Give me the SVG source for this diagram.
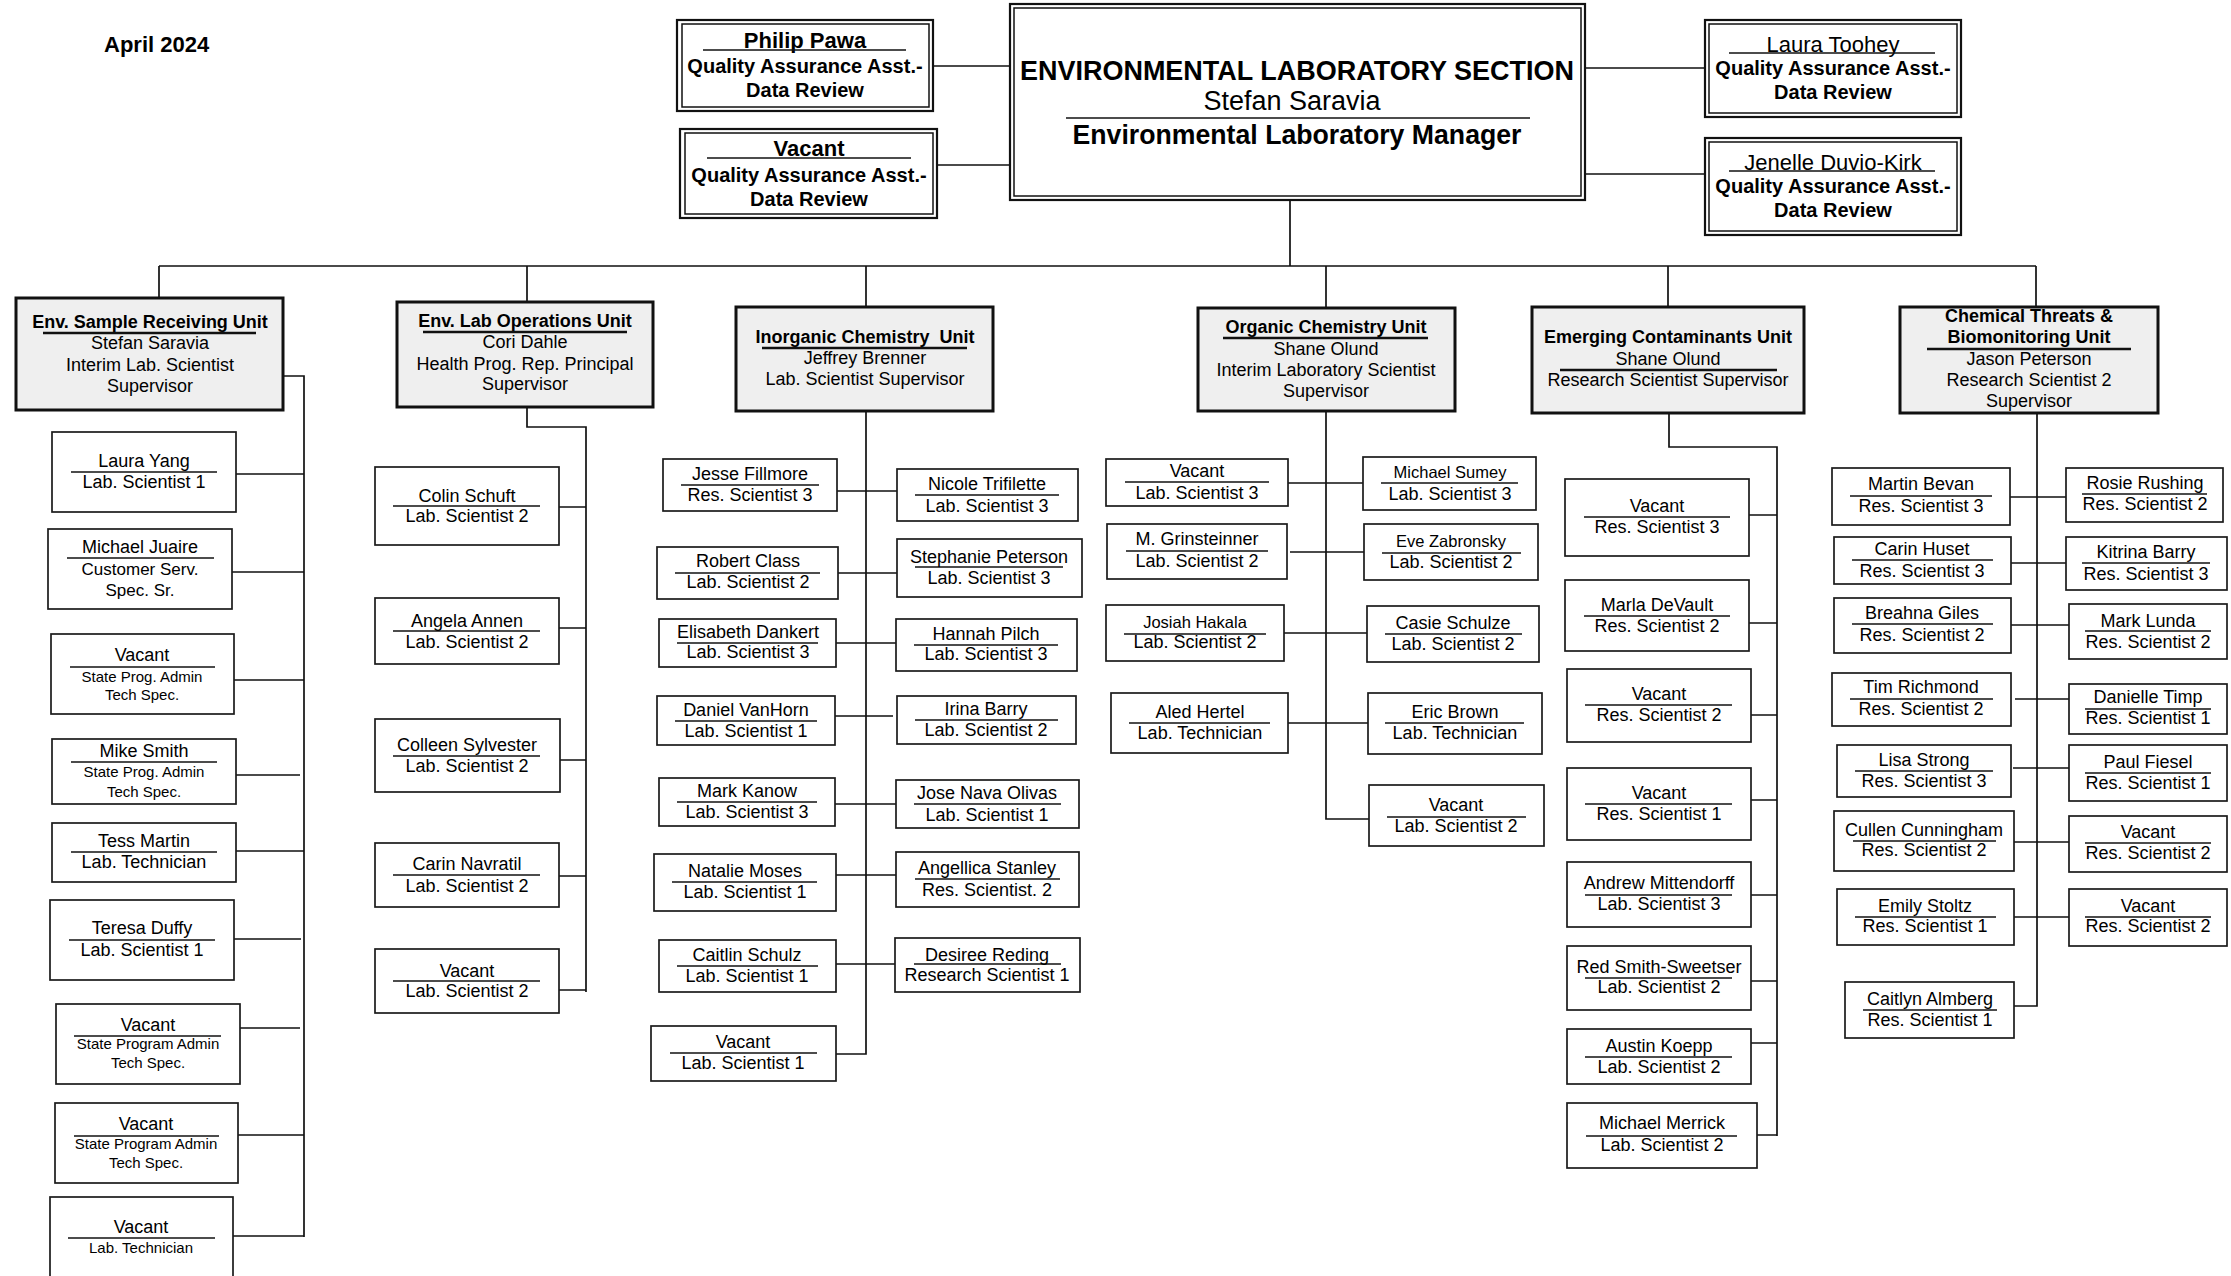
<svg xmlns="http://www.w3.org/2000/svg" width="2231" height="1276" viewBox="0 0 2231 1276">
<style>
.bg{fill:#fff}
.box{fill:#fff;stroke:#1a1a1a;stroke-width:1.7}
.o2{fill:#fff;stroke:#111;stroke-width:2.2}
.i2{fill:none;stroke:#111;stroke-width:1.5}
.unit{fill:#efefef;stroke:#111;stroke-width:3}
.ul{stroke:#111;stroke-width:1.7}
.ulb{stroke:#111;stroke-width:2.6}
.t{font-family:"Liberation Sans",Arial,sans-serif;font-size:18px;text-anchor:middle;fill:#000}
.s15{font-size:15px}
.s16{font-size:16.5px}
.s17{font-size:17px}
.s20{font-size:20px}
.s22{font-size:22px}
.s27{font-size:27px}
.b{font-weight:bold}
.conn path{fill:none;stroke:#111;stroke-width:1.7}
</style>
<rect class="bg" x="0" y="0" width="2231" height="1276"/>

<text class="t b s22" x="104" y="52" style="text-anchor:start">April 2024</text>

<g class="conn" id="connectors">
<path d="M933,66 H1010 M937,165 H1010 M1585,68 H1705 M1585,174 H1705"/>
<path d="M1290,200 V266 M159,266 H2036"/>
<path d="M159,266 V298 M527,266 V302 M866,266 V307 M1326,266 V308 M1668,266 V307 M2036,266 V307"/>
<path d="M283,376 H304 V1237 M236,474 H304 M232,572 H304 M234,680 H304 M236,775 H300 M236,851 H304 M234,939 H301 M240,1028 H300 M238,1135 H304 M233,1236 H304"/>
<path d="M527,407 V427 H586 V992 M559,507 H586 M559,628 H586 M560,760 H586 M559,876 H586 M559,990 H586"/>
<path d="M866,411 V1054 H836 M837,491 H897 M838,573 H897 M836,643 H896 M835,716 H893 M835,804 H896 M834,875 H896 M836,964 H898"/>
<path d="M1326,411 V819 H1369 M1288,483 H1363 M1290,552 H1367 M1284,633 H1367 M1288,723 H1368"/>
<path d="M1669,413 V447 H1777 V1136 M1749,515 H1777 M1749,623 H1777 M1751,715 H1777 M1751,800 H1777 M1751,895 H1777 M1751,981 H1777 M1751,1043 H1777 M1757,1135 H1777"/>
<path d="M2037,413 V1006 H2014 M2010,497 H2066 M2011,563 H2066 M2011,625 H2069 M2015,699 H2069 M2013,768 H2069 M2014,842 H2069 M2014,917 H2069"/>
</g>

<!-- top -->
<g id="n-main">
<rect class="o2" x="1010" y="4" width="575" height="196"/>
<rect class="i2" x="1014" y="8" width="567" height="188"/>
<text class="t b s27" x="1297" y="80" textLength="554" lengthAdjust="spacingAndGlyphs">ENVIRONMENTAL LABORATORY SECTION</text>
<text class="t s27" x="1292" y="110">Stefan Saravia</text>
<line class="ul" x1="1066" y1="118" x2="1530" y2="118"/>
<text class="t b s27" x="1297" y="144" textLength="449" lengthAdjust="spacingAndGlyphs">Environmental Laboratory Manager</text>
</g>
<g id="n-philip-pawa">
<rect class="o2" x="677" y="20" width="256" height="91"/>
<rect class="i2" x="682" y="24" width="247" height="83"/>
<text class="t b s22" x="805" y="48">Philip Pawa</text>
<line class="ul" x1="703" y1="50" x2="906" y2="50"/>
<text class="t b s20" x="805" y="73">Quality Assurance Asst.-</text>
<text class="t b s20" x="805" y="97">Data Review</text>
</g>
<g id="n-qa-vacant">
<rect class="o2" x="680" y="129" width="257" height="89"/>
<rect class="i2" x="685" y="133" width="248" height="81"/>
<text class="t b s22" x="809" y="156">Vacant</text>
<line class="ul" x1="707" y1="158" x2="911" y2="158"/>
<text class="t b s20" x="809" y="182">Quality Assurance Asst.-</text>
<text class="t b s20" x="809" y="206">Data Review</text>
</g>
<g id="n-laura-toohey">
<rect class="o2" x="1705" y="20" width="256" height="97"/>
<rect class="i2" x="1709" y="24" width="248" height="89"/>
<text class="t s22" x="1833" y="52">Laura Toohey</text>
<line class="ul" x1="1729" y1="53" x2="1935" y2="53"/>
<text class="t b s20" x="1833" y="75">Quality Assurance Asst.-</text>
<text class="t b s20" x="1833" y="99">Data Review</text>
</g>
<g id="n-jenelle-duvio-kirk">
<rect class="o2" x="1705" y="138" width="256" height="97"/>
<rect class="i2" x="1709" y="142" width="248" height="89"/>
<text class="t s22" x="1833" y="170">Jenelle Duvio-Kirk</text>
<line class="ul" x1="1729" y1="171" x2="1935" y2="171"/>
<text class="t b s20" x="1833" y="193">Quality Assurance Asst.-</text>
<text class="t b s20" x="1833" y="217">Data Review</text>
</g>

<!-- units -->
<g id="u-sample-receiving">
<rect class="unit" x="16" y="298" width="267" height="112"/>
<text class="t b" x="150" y="328">Env. Sample Receiving Unit</text>
<line class="ulb" x1="43" y1="333" x2="256" y2="333"/>
<text class="t" x="150" y="349">Stefan Saravia</text>
<text class="t" x="150" y="371">Interim Lab. Scientist</text>
<text class="t" x="150" y="392">Supervisor</text>
</g>
<g id="u-lab-operations">
<rect class="unit" x="397" y="302" width="256" height="105"/>
<text class="t b" x="525" y="327">Env. Lab Operations Unit</text>
<line class="ulb" x1="423" y1="332" x2="627" y2="332"/>
<text class="t" x="525" y="348">Cori Dahle</text>
<text class="t" x="525" y="370">Health Prog. Rep. Principal</text>
<text class="t" x="525" y="390">Supervisor</text>
</g>
<g id="u-inorganic">
<rect class="unit" x="736" y="307" width="257" height="104"/>
<text class="t b" x="865" y="343" xml:space="preserve">Inorganic Chemistry  Unit</text>
<line class="ulb" x1="762" y1="348" x2="967" y2="348"/>
<text class="t" x="865" y="364">Jeffrey Brenner</text>
<text class="t" x="865" y="385">Lab. Scientist Supervisor</text>
</g>
<g id="u-organic">
<rect class="unit" x="1198" y="308" width="257" height="103"/>
<text class="t b" x="1326" y="333">Organic Chemistry Unit</text>
<line class="ulb" x1="1223" y1="338" x2="1428" y2="338"/>
<text class="t" x="1326" y="355">Shane Olund</text>
<text class="t" x="1326" y="376">Interim Laboratory Scientist</text>
<text class="t" x="1326" y="397">Supervisor</text>
</g>
<g id="u-emerging">
<rect class="unit" x="1532" y="307" width="272" height="106"/>
<text class="t b" x="1668" y="343">Emerging Contaminants Unit</text>
<text class="t" x="1668" y="365">Shane Olund</text>
<line class="ulb" x1="1560" y1="370" x2="1777" y2="370"/>
<text class="t" x="1668" y="386">Research Scientist Supervisor</text>
</g>
<g id="u-chemical-threats">
<rect class="unit" x="1900" y="307" width="258" height="106"/>
<text class="t b" x="2029" y="322">Chemical Threats &amp;</text>
<text class="t b" x="2029" y="343">Biomonitoring Unit</text>
<line class="ulb" x1="1927" y1="349" x2="2131" y2="349"/>
<text class="t" x="2029" y="365">Jason Peterson</text>
<text class="t" x="2029" y="386">Research Scientist 2</text>
<text class="t" x="2029" y="407">Supervisor</text>
</g>

<!-- column 1 -->
<g id="n-laura-yang"><rect class="box" x="52" y="432" width="184" height="80"/><line class="ul" x1="71" y1="472" x2="217" y2="472"/><text class="t" x="144" y="467">Laura Yang</text><text class="t" x="144" y="488">Lab. Scientist 1</text></g>
<g id="n-michael-juaire"><rect class="box" x="48" y="529" width="184" height="80"/><line class="ul" x1="67" y1="558" x2="214" y2="558"/><text class="t" x="140" y="553">Michael Juaire</text><text class="t s17" x="140" y="575">Customer Serv.</text><text class="t s17" x="140" y="596">Spec. Sr.</text></g>
<g id="n-sr-vacant-1"><rect class="box" x="51" y="634" width="183" height="80"/><line class="ul" x1="70" y1="667" x2="215" y2="667"/><text class="t" x="142" y="661">Vacant</text><text class="t s15" x="142" y="682">State Prog. Admin</text><text class="t s15" x="142" y="700">Tech Spec.</text></g>
<g id="n-mike-smith"><rect class="box" x="52" y="739" width="184" height="65"/><line class="ul" x1="71" y1="762" x2="217" y2="762"/><text class="t" x="144" y="757">Mike Smith</text><text class="t s15" x="144" y="777">State Prog. Admin</text><text class="t s15" x="144" y="797">Tech Spec.</text></g>
<g id="n-tess-martin"><rect class="box" x="52" y="823" width="184" height="59"/><line class="ul" x1="71" y1="852" x2="217" y2="852"/><text class="t" x="144" y="847">Tess Martin</text><text class="t" x="144" y="868">Lab. Technician</text></g>
<g id="n-teresa-duffy"><rect class="box" x="50" y="900" width="184" height="80"/><line class="ul" x1="69" y1="940" x2="215" y2="940"/><text class="t" x="142" y="934">Teresa Duffy</text><text class="t" x="142" y="956">Lab. Scientist 1</text></g>
<g id="n-sr-vacant-2"><rect class="box" x="56" y="1004" width="184" height="80"/><line class="ul" x1="74" y1="1036" x2="221" y2="1036"/><text class="t" x="148" y="1031">Vacant</text><text class="t s15" x="148" y="1049">State Program Admin</text><text class="t s15" x="148" y="1068">Tech Spec.</text></g>
<g id="n-sr-vacant-3"><rect class="box" x="55" y="1103" width="183" height="80"/><line class="ul" x1="74" y1="1136" x2="219" y2="1136"/><text class="t" x="146" y="1130">Vacant</text><text class="t s15" x="146" y="1149">State Program Admin</text><text class="t s15" x="146" y="1168">Tech Spec.</text></g>
<g id="n-sr-vacant-4"><rect class="box" x="50" y="1197" width="183" height="90"/><line class="ul" x1="68" y1="1238" x2="215" y2="1238"/><text class="t" x="141" y="1233">Vacant</text><text class="t s15" x="141" y="1253">Lab. Technician</text></g>

<!-- column 2 -->
<g id="n-colin-schuft"><rect class="box" x="375" y="467" width="184" height="78"/><line class="ul" x1="393" y1="506" x2="540" y2="506"/><text class="t" x="467" y="502">Colin Schuft</text><text class="t" x="467" y="522">Lab. Scientist 2</text></g>
<g id="n-angela-annen"><rect class="box" x="375" y="598" width="184" height="66"/><line class="ul" x1="393" y1="631" x2="540" y2="631"/><text class="t" x="467" y="627">Angela Annen</text><text class="t" x="467" y="648">Lab. Scientist 2</text></g>
<g id="n-colleen-sylvester"><rect class="box" x="375" y="719" width="185" height="73"/><line class="ul" x1="393" y1="756" x2="540" y2="756"/><text class="t" x="467" y="751">Colleen Sylvester</text><text class="t" x="467" y="772">Lab. Scientist 2</text></g>
<g id="n-carin-navratil"><rect class="box" x="375" y="843" width="184" height="64"/><line class="ul" x1="393" y1="875" x2="540" y2="875"/><text class="t" x="467" y="870">Carin Navratil</text><text class="t" x="467" y="892">Lab. Scientist 2</text></g>
<g id="n-ops-vacant"><rect class="box" x="375" y="949" width="184" height="64"/><line class="ul" x1="393" y1="981" x2="540" y2="981"/><text class="t" x="467" y="977">Vacant</text><text class="t" x="467" y="997">Lab. Scientist 2</text></g>

<!-- column 3 -->
<g id="n-jesse-fillmore"><rect class="box" x="663" y="459" width="174" height="52"/><line class="ul" x1="681" y1="485" x2="819" y2="485"/><text class="t" x="750" y="480">Jesse Fillmore</text><text class="t" x="750" y="501">Res. Scientist 3</text></g>
<g id="n-robert-class"><rect class="box" x="657" y="547" width="181" height="52"/><line class="ul" x1="675" y1="573" x2="820" y2="573"/><text class="t" x="748" y="567">Robert Class</text><text class="t" x="748" y="588">Lab. Scientist 2</text></g>
<g id="n-elisabeth-dankert"><rect class="box" x="659" y="619" width="177" height="48"/><line class="ul" x1="677" y1="643" x2="818" y2="643"/><text class="t" x="748" y="638">Elisabeth Dankert</text><text class="t" x="748" y="658">Lab. Scientist 3</text></g>
<g id="n-daniel-vanhorn"><rect class="box" x="657" y="696" width="178" height="49"/><line class="ul" x1="675" y1="721" x2="817" y2="721"/><text class="t" x="746" y="716">Daniel VanHorn</text><text class="t" x="746" y="737">Lab. Scientist 1</text></g>
<g id="n-mark-kanow"><rect class="box" x="659" y="778" width="176" height="48"/><line class="ul" x1="677" y1="802" x2="817" y2="802"/><text class="t" x="747" y="797">Mark Kanow</text><text class="t" x="747" y="818">Lab. Scientist 3</text></g>
<g id="n-natalie-moses"><rect class="box" x="654" y="854" width="182" height="57"/><line class="ul" x1="672" y1="882" x2="817" y2="882"/><text class="t" x="745" y="877">Natalie Moses</text><text class="t" x="745" y="898">Lab. Scientist 1</text></g>
<g id="n-caitlin-schulz"><rect class="box" x="659" y="940" width="177" height="52"/><line class="ul" x1="677" y1="966" x2="818" y2="966"/><text class="t" x="747" y="961">Caitlin Schulz</text><text class="t" x="747" y="982">Lab. Scientist 1</text></g>
<g id="n-inorg-vacant"><rect class="box" x="651" y="1026" width="185" height="55"/><line class="ul" x1="670" y1="1053" x2="817" y2="1053"/><text class="t" x="743" y="1048">Vacant</text><text class="t" x="743" y="1069">Lab. Scientist 1</text></g>
<g id="n-nicole-trifilette"><rect class="box" x="897" y="469" width="181" height="52"/><line class="ul" x1="915" y1="495" x2="1059" y2="495"/><text class="t" x="987" y="490">Nicole Trifilette</text><text class="t" x="987" y="512">Lab. Scientist 3</text></g>
<g id="n-stephanie-peterson"><rect class="box" x="897" y="539" width="185" height="58"/><line class="ul" x1="915" y1="567" x2="1063" y2="567"/><text class="t" x="989" y="563">Stephanie Peterson</text><text class="t" x="989" y="584">Lab. Scientist 3</text></g>
<g id="n-hannah-pilch"><rect class="box" x="896" y="619" width="181" height="52"/><line class="ul" x1="914" y1="645" x2="1058" y2="645"/><text class="t" x="986" y="640">Hannah Pilch</text><text class="t" x="986" y="660">Lab. Scientist 3</text></g>
<g id="n-irina-barry"><rect class="box" x="897" y="696" width="179" height="48"/><line class="ul" x1="915" y1="720" x2="1058" y2="720"/><text class="t" x="986" y="715">Irina Barry</text><text class="t" x="986" y="736">Lab. Scientist 2</text></g>
<g id="n-jose-nava-olivas"><rect class="box" x="896" y="780" width="183" height="48"/><line class="ul" x1="914" y1="804" x2="1061" y2="804"/><text class="t" x="987" y="799">Jose Nava Olivas</text><text class="t" x="987" y="821">Lab. Scientist 1</text></g>
<g id="n-angellica-stanley"><rect class="box" x="896" y="852" width="183" height="55"/><line class="ul" x1="915" y1="879" x2="1060" y2="879"/><text class="t" x="987" y="874">Angellica Stanley</text><text class="t" x="987" y="896">Res. Scientist. 2</text></g>
<g id="n-desiree-reding"><rect class="box" x="895" y="938" width="185" height="54"/><line class="ul" x1="914" y1="964" x2="1061" y2="964"/><text class="t" x="987" y="961">Desiree Reding</text><text class="t" x="987" y="981">Research Scientist 1</text></g>

<!-- column 4 -->
<g id="n-org-vacant-1"><rect class="box" x="1106" y="459" width="182" height="47"/><line class="ul" x1="1125" y1="482" x2="1269" y2="482"/><text class="t" x="1197" y="477">Vacant</text><text class="t" x="1197" y="499">Lab. Scientist 3</text></g>
<g id="n-m-grinsteinner"><rect class="box" x="1107" y="524" width="180" height="55"/><line class="ul" x1="1126" y1="551" x2="1268" y2="551"/><text class="t" x="1197" y="545">M. Grinsteinner</text><text class="t" x="1197" y="567">Lab. Scientist 2</text></g>
<g id="n-josiah-hakala"><rect class="box" x="1106" y="605" width="178" height="56"/><line class="ul" x1="1124" y1="634" x2="1266" y2="634"/><text class="t s16" x="1195" y="628">Josiah Hakala</text><text class="t" x="1195" y="648">Lab. Scientist 2</text></g>
<g id="n-aled-hertel"><rect class="box" x="1111" y="693" width="177" height="60"/><line class="ul" x1="1129" y1="723" x2="1270" y2="723"/><text class="t" x="1200" y="718">Aled Hertel</text><text class="t" x="1200" y="739">Lab. Technician</text></g>
<g id="n-michael-sumey"><rect class="box" x="1363" y="457" width="173" height="53"/><line class="ul" x1="1381" y1="483" x2="1518" y2="483"/><text class="t s16" x="1450" y="478">Michael Sumey</text><text class="t" x="1450" y="500">Lab. Scientist 3</text></g>
<g id="n-eve-zabronsky"><rect class="box" x="1364" y="524" width="174" height="56"/><line class="ul" x1="1382" y1="553" x2="1521" y2="553"/><text class="t s16" x="1451" y="547">Eve Zabronsky</text><text class="t" x="1451" y="568">Lab. Scientist 2</text></g>
<g id="n-casie-schulze"><rect class="box" x="1367" y="606" width="172" height="56"/><line class="ul" x1="1385" y1="634" x2="1522" y2="634"/><text class="t" x="1453" y="629">Casie Schulze</text><text class="t" x="1453" y="650">Lab. Scientist 2</text></g>
<g id="n-eric-brown"><rect class="box" x="1368" y="693" width="174" height="61"/><line class="ul" x1="1385" y1="723" x2="1524" y2="723"/><text class="t" x="1455" y="718">Eric Brown</text><text class="t" x="1455" y="739">Lab. Technician</text></g>
<g id="n-org-vacant-2"><rect class="box" x="1369" y="785" width="175" height="61"/><line class="ul" x1="1387" y1="817" x2="1526" y2="817"/><text class="t" x="1456" y="811">Vacant</text><text class="t" x="1456" y="832">Lab. Scientist 2</text></g>

<!-- column 5 -->
<g id="n-em-vacant-1"><rect class="box" x="1565" y="479" width="184" height="77"/><line class="ul" x1="1584" y1="517" x2="1730" y2="517"/><text class="t" x="1657" y="512">Vacant</text><text class="t" x="1657" y="533">Res. Scientist 3</text></g>
<g id="n-marla-devault"><rect class="box" x="1565" y="580" width="184" height="71"/><line class="ul" x1="1584" y1="616" x2="1730" y2="616"/><text class="t" x="1657" y="611">Marla DeVault</text><text class="t" x="1657" y="632">Res. Scientist 2</text></g>
<g id="n-em-vacant-2"><rect class="box" x="1567" y="669" width="184" height="73"/><line class="ul" x1="1585" y1="705" x2="1732" y2="705"/><text class="t" x="1659" y="700">Vacant</text><text class="t" x="1659" y="721">Res. Scientist 2</text></g>
<g id="n-em-vacant-3"><rect class="box" x="1567" y="768" width="184" height="72"/><line class="ul" x1="1585" y1="804" x2="1732" y2="804"/><text class="t" x="1659" y="799">Vacant</text><text class="t" x="1659" y="820">Res. Scientist 1</text></g>
<g id="n-andrew-mittendorff"><rect class="box" x="1567" y="862" width="184" height="65"/><line class="ul" x1="1585" y1="895" x2="1732" y2="895"/><text class="t" x="1659" y="889">Andrew Mittendorff</text><text class="t" x="1659" y="910">Lab. Scientist 3</text></g>
<g id="n-red-smith-sweetser"><rect class="box" x="1567" y="946" width="184" height="64"/><line class="ul" x1="1585" y1="978" x2="1732" y2="978"/><text class="t" x="1659" y="973">Red Smith-Sweetser</text><text class="t" x="1659" y="993">Lab. Scientist 2</text></g>
<g id="n-austin-koepp"><rect class="box" x="1567" y="1029" width="184" height="55"/><line class="ul" x1="1585" y1="1057" x2="1732" y2="1057"/><text class="t" x="1659" y="1052">Austin Koepp</text><text class="t" x="1659" y="1073">Lab. Scientist 2</text></g>
<g id="n-michael-merrick"><rect class="box" x="1567" y="1103" width="190" height="65"/><line class="ul" x1="1586" y1="1136" x2="1737" y2="1136"/><text class="t" x="1662" y="1129">Michael Merrick</text><text class="t" x="1662" y="1151">Lab. Scientist 2</text></g>

<!-- column 6 -->
<g id="n-martin-bevan"><rect class="box" x="1832" y="468" width="178" height="57"/><line class="ul" x1="1850" y1="496" x2="1992" y2="496"/><text class="t" x="1921" y="490">Martin Bevan</text><text class="t" x="1921" y="512">Res. Scientist 3</text></g>
<g id="n-carin-huset"><rect class="box" x="1834" y="537" width="177" height="47"/><line class="ul" x1="1852" y1="560" x2="1993" y2="560"/><text class="t" x="1922" y="555">Carin Huset</text><text class="t" x="1922" y="577">Res. Scientist 3</text></g>
<g id="n-breahna-giles"><rect class="box" x="1834" y="598" width="177" height="55"/><line class="ul" x1="1852" y1="624" x2="1993" y2="624"/><text class="t" x="1922" y="619">Breahna Giles</text><text class="t" x="1922" y="641">Res. Scientist 2</text></g>
<g id="n-tim-richmond"><rect class="box" x="1832" y="673" width="179" height="53"/><line class="ul" x1="1850" y1="699" x2="1993" y2="699"/><text class="t" x="1921" y="693">Tim Richmond</text><text class="t" x="1921" y="715">Res. Scientist 2</text></g>
<g id="n-lisa-strong"><rect class="box" x="1837" y="745" width="174" height="52"/><line class="ul" x1="1855" y1="771" x2="1993" y2="771"/><text class="t" x="1924" y="766">Lisa Strong</text><text class="t" x="1924" y="787">Res. Scientist 3</text></g>
<g id="n-cullen-cunningham"><rect class="box" x="1834" y="811" width="180" height="60"/><line class="ul" x1="1853" y1="841" x2="1996" y2="841"/><text class="t" x="1924" y="836">Cullen Cunningham</text><text class="t" x="1924" y="856">Res. Scientist 2</text></g>
<g id="n-emily-stoltz"><rect class="box" x="1837" y="889" width="177" height="56"/><line class="ul" x1="1855" y1="917" x2="1996" y2="917"/><text class="t" x="1925" y="912">Emily Stoltz</text><text class="t" x="1925" y="932">Res. Scientist 1</text></g>
<g id="n-caitlyn-almberg"><rect class="box" x="1845" y="982" width="169" height="56"/><line class="ul" x1="1863" y1="1010" x2="1997" y2="1010"/><text class="t" x="1930" y="1005">Caitlyn Almberg</text><text class="t" x="1930" y="1026">Res. Scientist 1</text></g>
<g id="n-rosie-rushing"><rect class="box" x="2066" y="468" width="157" height="54"/><line class="ul" x1="2082" y1="494" x2="2207" y2="494"/><text class="t" x="2145" y="489">Rosie Rushing</text><text class="t" x="2145" y="510">Res. Scientist 2</text></g>
<g id="n-kitrina-barry"><rect class="box" x="2066" y="537" width="161" height="53"/><line class="ul" x1="2082" y1="563" x2="2210" y2="563"/><text class="t" x="2146" y="558">Kitrina Barry</text><text class="t" x="2146" y="580">Res. Scientist 3</text></g>
<g id="n-mark-lunda"><rect class="box" x="2069" y="604" width="158" height="55"/><line class="ul" x1="2085" y1="631" x2="2211" y2="631"/><text class="t" x="2148" y="627">Mark Lunda</text><text class="t" x="2148" y="648">Res. Scientist 2</text></g>
<g id="n-danielle-timp"><rect class="box" x="2069" y="684" width="158" height="50"/><line class="ul" x1="2085" y1="709" x2="2211" y2="709"/><text class="t" x="2148" y="703">Danielle Timp</text><text class="t" x="2148" y="724">Res. Scientist 1</text></g>
<g id="n-paul-fiesel"><rect class="box" x="2069" y="745" width="158" height="56"/><line class="ul" x1="2085" y1="773" x2="2211" y2="773"/><text class="t" x="2148" y="768">Paul Fiesel</text><text class="t" x="2148" y="789">Res. Scientist 1</text></g>
<g id="n-ct-vacant-1"><rect class="box" x="2069" y="816" width="158" height="56"/><line class="ul" x1="2085" y1="843" x2="2211" y2="843"/><text class="t" x="2148" y="838">Vacant</text><text class="t" x="2148" y="859">Res. Scientist 2</text></g>
<g id="n-ct-vacant-2"><rect class="box" x="2069" y="889" width="158" height="57"/><line class="ul" x1="2085" y1="917" x2="2211" y2="917"/><text class="t" x="2148" y="912">Vacant</text><text class="t" x="2148" y="932">Res. Scientist 2</text></g>
</svg>
